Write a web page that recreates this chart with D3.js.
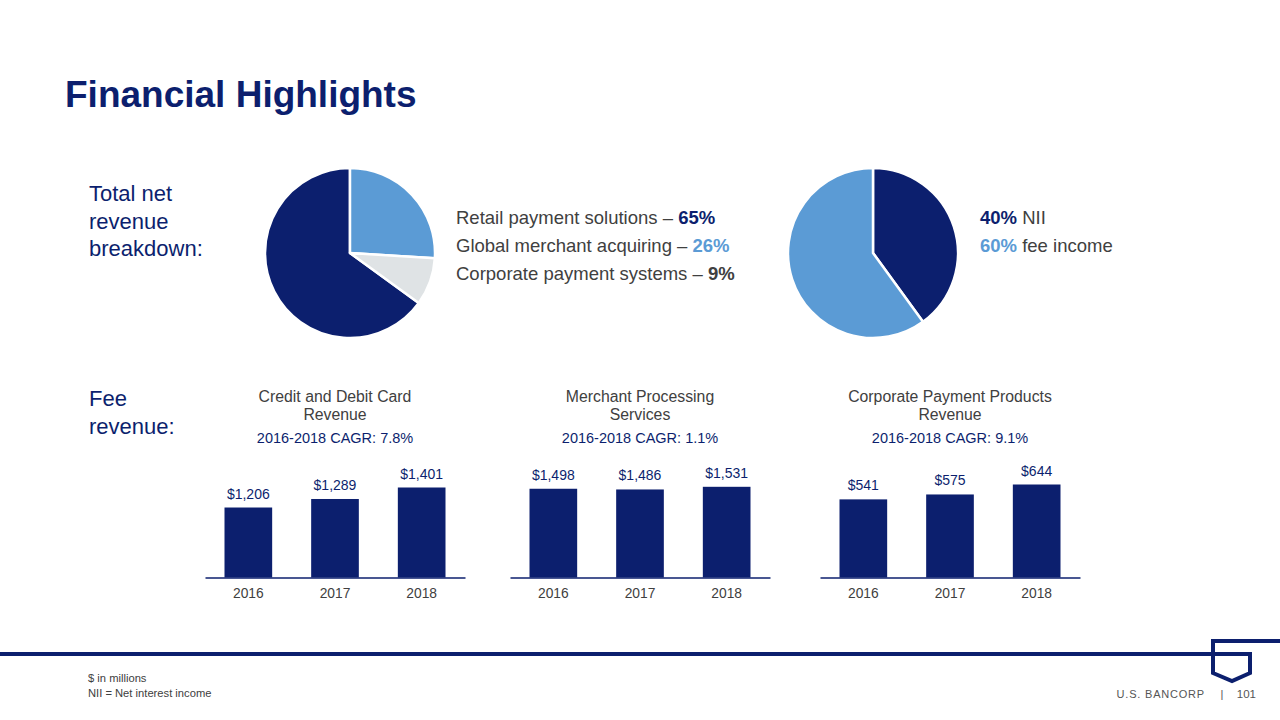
<!DOCTYPE html>
<html>
<head>
<meta charset="utf-8">
<script src="https://cdn.jsdelivr.net/npm/d3@7/dist/d3.min.js"></script>
<style>
  html, body { margin: 0; padding: 0; background: #fff; }
  svg { display: block; font-family: "Liberation Sans", Arial, sans-serif; }
</style>
</head>
<body>
<svg id="chart" width="1280" height="720"></svg>
<script>
// ---------- data ----------
const titleText = "Financial Highlights";
const revenueLabelLines = ["Total net", "revenue", "breakdown:"];
const feeLabelLines = ["Fee", "revenue:"];

const mixLabels = ["Retail payment solutions", "Global merchant acquiring", "Corporate payment systems"];
const mixShares = [65, 26, 9];

const incomeLabels = ["NII", "fee income"];
const incomeShares = [40, 60];

const years = ["2016", "2017", "2018"];
const panelTitles = [["Credit and Debit Card", "Revenue"], ["Merchant Processing", "Services"], ["Corporate Payment Products", "Revenue"]];
const panelCagr = ["2016-2018 CAGR: 7.8%", "2016-2018 CAGR: 1.1%", "2016-2018 CAGR: 9.1%"];
const cardRevenue = [1206, 1289, 1401];
const merchantRevenue = [1498, 1486, 1531];
const corporateRevenue = [541, 575, 644];

const footnotes = ["$ in millions", "NII = Net interest income"];
const brandText = "U.S. BANCORP";
const pageNumber = "101";

// ---------- styles ----------
const NAVY = "#0c1f6e";
const LIGHT = "#5b9bd5";
const GREY = "#dfe3e5";
const TEXT = "#404040";

const svg = d3.select("#chart");

// title
svg.append("text").attr("x", 65).attr("y", 107)
  .attr("font-size", 37).attr("font-weight", "bold").attr("fill", NAVY).text(titleText);

// side labels
svg.append("g").selectAll("text").data(revenueLabelLines).join("text")
  .attr("x", 89).attr("y", (d, i) => 201 + i * 27.5)
  .attr("font-size", 22).attr("fill", NAVY).text(d => d);
svg.append("g").selectAll("text").data(feeLabelLines).join("text")
  .attr("x", 89).attr("y", (d, i) => 406 + i * 27.5)
  .attr("font-size", 22).attr("fill", NAVY).text(d => d);

// ---------- pies ----------
const R = 85;
const arc = d3.arc().innerRadius(0).outerRadius(R);

const mixColors = [NAVY, LIGHT, GREY];
const mixStart = -2 * Math.PI * mixShares[0] / 100;
const mixPie = d3.pie().sort(null).startAngle(mixStart).endAngle(mixStart + 2 * Math.PI);
svg.append("g").attr("transform", "translate(350,253)")
  .selectAll("path").data(mixPie(mixShares)).join("path")
  .attr("d", arc).attr("fill", (d, i) => mixColors[i])
  .attr("stroke", "#fff").attr("stroke-width", 2.5).attr("stroke-linejoin", "round");

const incomeColors = [NAVY, LIGHT];
const incomePie = d3.pie().sort(null);
svg.append("g").attr("transform", "translate(873,253)")
  .selectAll("path").data(incomePie(incomeShares)).join("path")
  .attr("d", arc).attr("fill", (d, i) => incomeColors[i])
  .attr("stroke", "#fff").attr("stroke-width", 2.5).attr("stroke-linejoin", "round");

// legend for mix
const mixPctColors = [NAVY, LIGHT, TEXT];
const mixLeg = svg.append("g").selectAll("text").data(mixLabels).join("text")
  .attr("x", 456).attr("y", (d, i) => 224 + i * 28)
  .attr("font-size", 18.5).attr("fill", TEXT);
mixLeg.append("tspan").text(d => d + " \u2013 ");
mixLeg.append("tspan").attr("font-weight", "bold").attr("fill", (d, i) => mixPctColors[i])
  .text((d, i) => mixShares[i] + "%");

// legend for income
const incLeg = svg.append("g").selectAll("text").data(incomeLabels).join("text")
  .attr("x", 980).attr("y", (d, i) => 224 + i * 28)
  .attr("font-size", 18.5).attr("fill", TEXT);
incLeg.append("tspan").attr("font-weight", "bold").attr("fill", (d, i) => incomeColors[i])
  .text((d, i) => incomeShares[i] + "%");
incLeg.append("tspan").text(d => " " + d);

// ---------- bar panels ----------
const panels = [
  { x0: 205, values: cardRevenue, floor: 524, hmax: 90 },
  { x0: 510, values: merchantRevenue, floor: 0, hmax: 90.7 },
  { x0: 820, values: corporateRevenue, floor: 0, hmax: 93 }
];
const baseY = 577.5;
const panelW = 260;
const fmt = d3.format(",");

panels.forEach((p, k) => {
  const g = svg.append("g");
  const cx = p.x0 + panelW / 2;
  const x = d3.scaleBand().domain(years).range([p.x0, p.x0 + panelW]).paddingInner(0.45).paddingOuter(0.225);
  const y = d3.scaleLinear().domain([p.floor, d3.max(p.values)]).range([baseY, baseY - p.hmax]);

  g.selectAll("text.pt").data(panelTitles[k]).join("text").attr("class", "pt")
    .attr("x", cx).attr("y", (d, i) => 402 + i * 18)
    .attr("text-anchor", "middle").attr("font-size", 15.8).attr("fill", TEXT).text(d => d);
  g.append("text").attr("x", cx).attr("y", 443).attr("text-anchor", "middle")
    .attr("font-size", 14.5).attr("fill", NAVY).text(panelCagr[k]);

  g.selectAll("rect").data(p.values).join("rect")
    .attr("x", (d, i) => x(years[i])).attr("width", x.bandwidth())
    .attr("y", d => y(d)).attr("height", d => baseY - y(d)).attr("fill", NAVY);

  g.selectAll("text.val").data(p.values).join("text").attr("class", "val")
    .attr("x", (d, i) => x(years[i]) + x.bandwidth() / 2).attr("y", d => y(d) - 9)
    .attr("text-anchor", "middle").attr("font-size", 14).attr("fill", NAVY)
    .text(d => "$" + fmt(d));

  const axis = d3.axisBottom(x).tickSize(0).tickPadding(11);
  const ag = g.append("g").attr("transform", `translate(0,${baseY})`).call(axis);
  ag.select(".domain").attr("stroke", NAVY).attr("stroke-width", 1.5);
  ag.selectAll(".tick text").attr("font-size", 13.8).attr("fill", TEXT)
    .attr("font-family", "Liberation Sans, Arial, sans-serif");
});

// ---------- footer ----------
svg.append("path")
  .attr("d", "M0,654 L1250,654 L1250,673 L1232,681 L1213,673 L1213,641 L1280,641")
  .attr("fill", "none").attr("stroke", NAVY).attr("stroke-width", 4).attr("stroke-linejoin", "miter");

svg.append("g").selectAll("text").data(footnotes).join("text")
  .attr("x", 88).attr("y", (d, i) => 682 + i * 15)
  .attr("font-size", 11.2).attr("fill", "#404040").text(d => d);

svg.append("text").attr("x", 1205).attr("y", 698).attr("text-anchor", "end")
  .attr("font-size", 11).attr("fill", "#555").attr("letter-spacing", 0.8).text(brandText);
svg.append("text").attr("x", 1222).attr("y", 698).attr("text-anchor", "middle")
  .attr("font-size", 11).attr("fill", "#555").text("|");
svg.append("text").attr("x", 1256).attr("y", 698).attr("text-anchor", "end")
  .attr("font-size", 11.5).attr("fill", "#555").text(pageNumber);
</script>
</body>
</html>
